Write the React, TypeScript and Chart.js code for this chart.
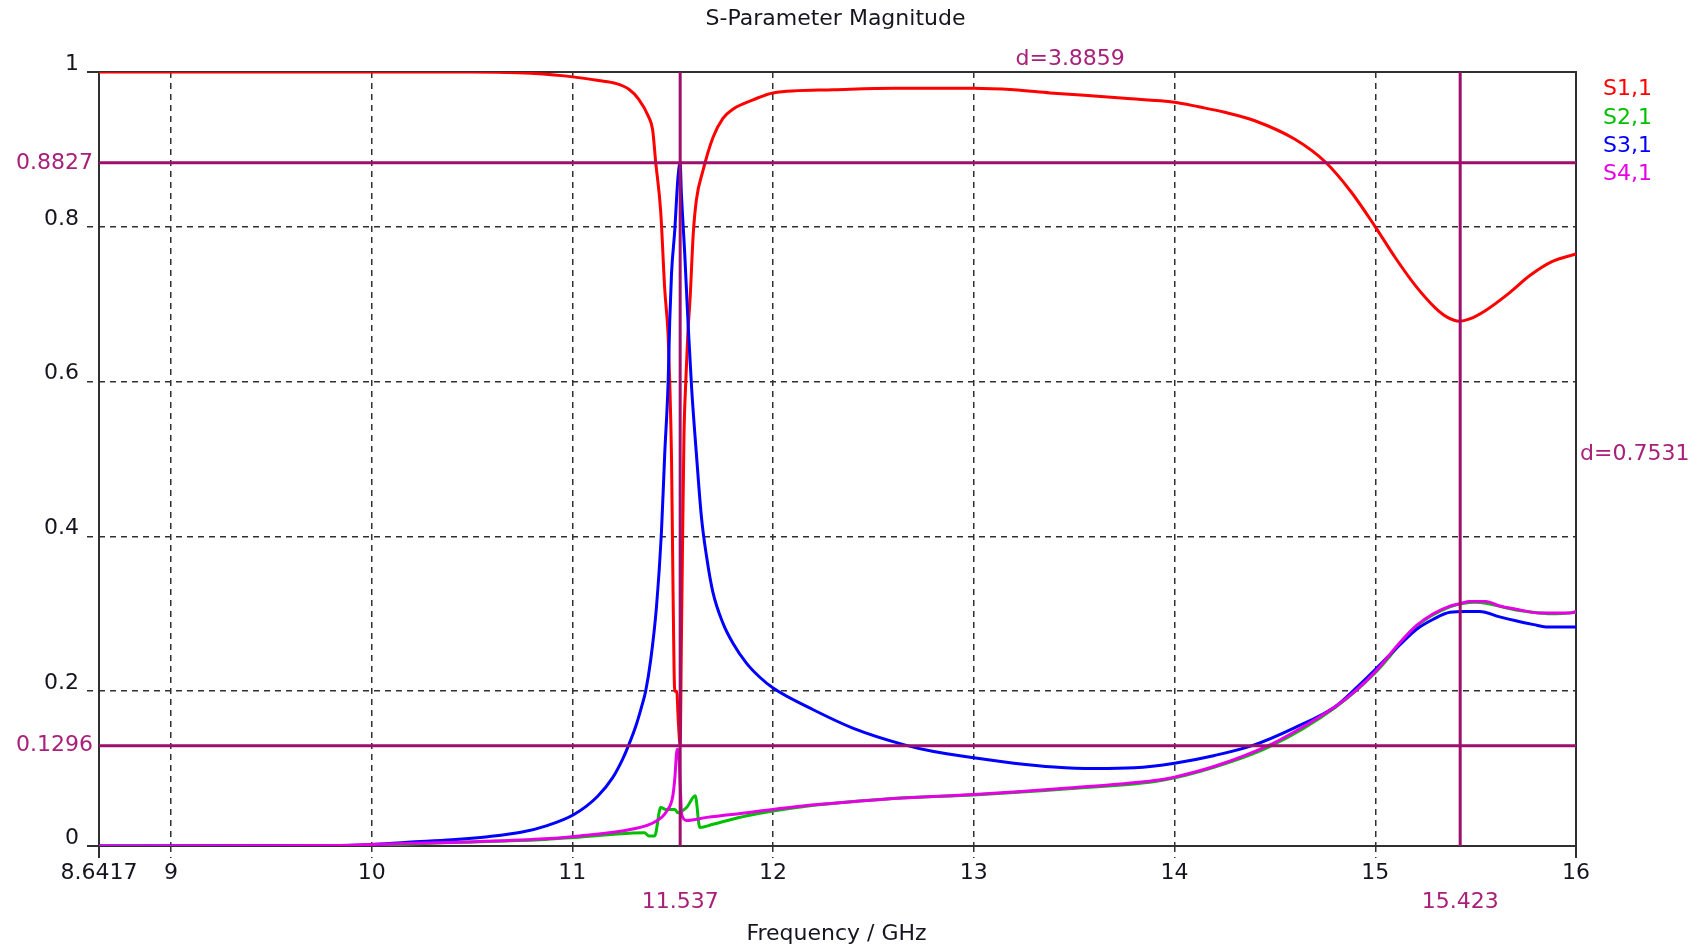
import React, { useEffect, useRef } from 'react';
import { Chart, registerables } from 'chart.js';

Chart.register(...registerables);

// ---------- data ----------
const chartTitle = 'S-Parameter Magnitude';
const xAxisTitle = 'Frequency / GHz';
const xTickValues = [8.6417, 9, 10, 11, 12, 13, 14, 15, 16];
const yTickValues = [0, 0.2, 0.4, 0.6, 0.8, 1];

const seriesNames = ['S1,1', 'S2,1', 'S3,1', 'S4,1'];

const s11Freq = [8.6417, 10.5, 10.73, 10.96, 11.13, 11.22, 11.28, 11.33, 11.38, 11.4, 11.415, 11.44, 11.46, 11.477, 11.485, 11.494, 11.502, 11.51, 11.52, 11.528, 11.537, 11.543, 11.548, 11.556, 11.565, 11.575, 11.587, 11.602, 11.618, 11.65, 11.7, 11.75, 11.8, 11.9, 12.0, 12.3, 12.6, 13.0, 13.2, 13.38, 13.55, 13.75, 14.0, 14.12, 14.25, 14.4, 14.6, 14.75, 14.88, 15.0, 15.1, 15.2, 15.3, 15.36, 15.42, 15.47, 15.55, 15.67, 15.77, 15.88, 16.0];
const s11Mag = [1.0, 1.0, 0.999, 0.995, 0.989, 0.985, 0.978, 0.965, 0.942, 0.925, 0.884, 0.82, 0.72, 0.66, 0.6, 0.5, 0.32, 0.2, 0.2, 0.16, 0.13, 0.26, 0.37, 0.53, 0.6, 0.66, 0.71, 0.79, 0.835, 0.872, 0.915, 0.94, 0.952, 0.964, 0.973, 0.977, 0.979, 0.979, 0.977, 0.973, 0.97, 0.966, 0.961, 0.955, 0.948, 0.937, 0.913, 0.884, 0.845, 0.8, 0.76, 0.724, 0.695, 0.683, 0.678, 0.681, 0.692, 0.715, 0.737, 0.755, 0.765];

const s21Freq = [8.6417, 9.84, 10.44, 10.84, 11.01, 11.3, 11.36, 11.38, 11.41, 11.44, 11.47, 11.51, 11.526, 11.57, 11.612, 11.635, 11.7, 11.87, 12.156, 12.64, 13.0, 13.47, 13.94, 14.2, 14.47, 14.8, 15.0, 15.206, 15.372, 15.5, 15.7, 15.9, 16.0];
const s21Mag = [0, 0, 0.005, 0.008, 0.011, 0.0167, 0.017, 0.013, 0.013, 0.0496, 0.047, 0.047, 0.043, 0.05, 0.065, 0.024, 0.028, 0.039, 0.051, 0.062, 0.066, 0.074, 0.085, 0.102, 0.128, 0.179, 0.224, 0.284, 0.309, 0.315, 0.305, 0.3, 0.302];

const s31Freq = [8.6417, 9.8, 10.0, 10.18, 10.4, 10.58, 10.75, 10.87, 11.01, 11.125, 11.2, 11.25, 11.28, 11.32, 11.345, 11.365, 11.39, 11.419, 11.444, 11.46, 11.477, 11.485, 11.494, 11.51, 11.525, 11.537, 11.543, 11.56, 11.577, 11.594, 11.618, 11.643, 11.668, 11.7, 11.75, 11.8, 11.868, 11.934, 12.0, 12.2, 12.4, 12.65, 12.8, 13.0, 13.2, 13.4, 13.6, 13.8, 14.0, 14.2, 14.39, 14.6, 14.8, 14.9, 15.0, 15.123, 15.206, 15.289, 15.372, 15.45, 15.52, 15.62, 15.7, 15.79, 15.85, 16.0];
const s31Mag = [0, 0.0005, 0.002, 0.005, 0.008, 0.012, 0.018, 0.026, 0.041, 0.064, 0.088, 0.112, 0.13, 0.158, 0.18, 0.2, 0.24, 0.309, 0.407, 0.506, 0.598, 0.678, 0.74, 0.795, 0.86, 0.8827, 0.844, 0.764, 0.672, 0.592, 0.506, 0.425, 0.375, 0.328, 0.288, 0.262, 0.236, 0.218, 0.204, 0.176, 0.152, 0.131, 0.122, 0.114, 0.107, 0.102, 0.1, 0.101, 0.107, 0.117, 0.13, 0.153, 0.18, 0.203, 0.228, 0.26, 0.28, 0.293, 0.302, 0.303, 0.303, 0.296, 0.291, 0.286, 0.283, 0.283];

const s41Freq = [8.6417, 9.84, 10.0, 10.44, 10.84, 11.01, 11.3, 11.41, 11.47, 11.5, 11.51, 11.522, 11.53, 11.537, 11.545, 11.57, 11.67, 11.87, 12.156, 12.38, 12.64, 13.0, 13.47, 13.94, 14.0, 14.2, 14.47, 14.6, 14.8, 14.9, 15.0, 15.123, 15.206, 15.289, 15.372, 15.423, 15.47, 15.55, 15.62, 15.7, 15.82, 15.97, 16.0];
const s41Mag = [0, 0.0005, 0.002, 0.005, 0.009, 0.0124, 0.022, 0.031, 0.045, 0.064, 0.086, 0.125, 0.12, 0.08, 0.04, 0.033, 0.037, 0.043, 0.052, 0.057, 0.062, 0.0665, 0.075, 0.086, 0.089, 0.103, 0.13, 0.148, 0.18, 0.2, 0.225, 0.263, 0.285, 0.3, 0.31, 0.313, 0.316, 0.316, 0.31, 0.306, 0.301, 0.301, 0.303];

const markerFreqs = [11.537, 15.423];
const markerFreqLabels = ['11.537', '15.423'];
const markerLevels = [0.8827, 0.1296];
const markerLevelLabels = ['0.8827', '0.1296'];
const deltaFreqLabel = 'd=3.8859';
const deltaLevelLabel = 'd=0.7531';

// ---------- styles ----------
const seriesColors = ['#ff0000', '#00c000', '#0000ff', '#e600e6'];
const seriesOrder = [2, 3, 1, 0];
const FONT = '"DejaVu Sans", Verdana, sans-serif';
const FS = 22;
const markerLine = '#9e0f6c';
const markerText = '#a8207a';
const gridCol = '#303030';

const xMin = xTickValues[0];
const xMax = xTickValues[xTickValues.length - 1];

const pairs = (f: number[], m: number[]) => f.map((v, i) => ({ x: v, y: m[i] }));

const overlay = {
  id: 'overlay',
  beforeDatasetsDraw(chart: any) {
    const { ctx, chartArea: a } = chart;
    ctx.save();
    ctx.strokeStyle = gridCol;
    ctx.lineWidth = 2;
    ctx.setLineDash([]);
    ctx.beginPath();
    ctx.moveTo(a.left - 12, a.top);
    ctx.lineTo(a.right, a.top);
    ctx.lineTo(a.right, a.bottom + 12);
    ctx.moveTo(a.left - 12, a.bottom);
    ctx.lineTo(a.right, a.bottom);
    ctx.moveTo(a.left, a.top);
    ctx.lineTo(a.left, a.bottom + 12);
    ctx.stroke();
    ctx.restore();
  },
  afterDatasetsDraw(chart: any) {
    const { ctx, chartArea: a, scales } = chart;
    const x = scales.x, y = scales.y;
    ctx.save();
    ctx.strokeStyle = markerLine;
    ctx.lineWidth = 3;
    ctx.beginPath();
    markerFreqs.forEach((f) => {
      const px = x.getPixelForValue(f);
      ctx.moveTo(px, a.top);
      ctx.lineTo(px, a.bottom);
    });
    markerLevels.forEach((v) => {
      const py = y.getPixelForValue(v);
      ctx.moveTo(a.left, py);
      ctx.lineTo(a.right, py);
    });
    ctx.stroke();
    ctx.restore();
  },
  afterDraw(chart: any) {
    const { ctx, chartArea: a, scales } = chart;
    const x = scales.x, y = scales.y;
    ctx.save();
    ctx.font = `${FS}px ${FONT}`;
    ctx.textBaseline = 'middle';
    // title
    ctx.fillStyle = '#151520';
    ctx.textAlign = 'center';
    ctx.fillText(chartTitle, (a.left + a.right) / 2 - 2, 19);
    ctx.fillText(xAxisTitle, (a.left + a.right) / 2 - 1, 934);
    // legend
    ctx.textAlign = 'left';
    seriesNames.forEach((n, i) => {
      ctx.fillStyle = seriesColors[i];
      ctx.fillText(n, a.right + 27, 89.5 + i * 28.3);
    });
    // marker labels
    ctx.fillStyle = markerText;
    ctx.textAlign = 'center';
    markerFreqs.forEach((f, i) => {
      ctx.fillText(markerFreqLabels[i], x.getPixelForValue(f), 902);
    });
    const midF = (markerFreqs[0] + markerFreqs[1]) / 2;
    ctx.fillText(deltaFreqLabel, x.getPixelForValue(midF), a.top - 13);
    ctx.textAlign = 'right';
    markerLevels.forEach((v, i) => {
      ctx.fillText(markerLevelLabels[i], a.left - 6, y.getPixelForValue(v));
    });
    ctx.textAlign = 'left';
    const midV = (markerLevels[0] + markerLevels[1]) / 2;
    ctx.fillText(deltaLevelLabel, a.right + 4, y.getPixelForValue(midV));
    ctx.restore();
  },
};

const edgeX = (v: number) => v === xMin || v === xMax;
const edgeY = (v: number) => v === 0 || v === 1;

export default function App() {
  const ref = useRef<HTMLCanvasElement | null>(null);
  useEffect(() => {
    if (!ref.current) return;
    const freqs = [s11Freq, s21Freq, s31Freq, s41Freq];
    const mags = [s11Mag, s21Mag, s31Mag, s41Mag];
    const chart = new Chart(ref.current, {
      type: 'line',
      data: {
        datasets: seriesNames.map((n, i) => ({
          label: n,
          data: pairs(freqs[i], mags[i]),
          borderColor: seriesColors[i],
          backgroundColor: seriesColors[i],
          borderWidth: 3,
          pointRadius: 0,
          cubicInterpolationMode: 'monotone',
          fill: false,
          borderJoinStyle: 'round',
          order: seriesOrder[i],
        })),
      },
      options: {
        animation: false,
        responsive: false,
        devicePixelRatio: 1,
        events: [],
        layout: { padding: { top: 72, right: 132, bottom: 0, left: 0 } },
        plugins: { legend: { display: false }, title: { display: false }, tooltip: { enabled: false } },
        scales: {
          x: {
            type: 'linear',
            min: xMin,
            max: xMax,
            afterBuildTicks: (s: any) => { s.ticks = xTickValues.map((v) => ({ value: v })); },
            afterFit: (s: any) => { s.height = 105; },
            border: { display: false, dash: [6, 5] },
            grid: {
              color: (c: any) => (c.tick && edgeX(c.tick.value) ? 'rgba(0,0,0,0)' : gridCol),
              lineWidth: 1.5,
              tickLength: 12,
              tickBorderDash: [6, 5],
            },
            ticks: {
              autoSkip: false,
              maxRotation: 0,
              minRotation: 0,
              padding: 2,
              color: '#151520',
              font: { family: FONT, size: FS },
              callback: (v: any) => String(v),
            },
          },
          y: {
            type: 'linear',
            min: 0,
            max: 1,
            afterBuildTicks: (s: any) => { s.ticks = yTickValues.map((v) => ({ value: v })); },
            afterFit: (s: any) => { s.width = 99; },
            border: { display: false, dash: [6, 5] },
            grid: {
              color: (c: any) => (c.tick && edgeY(c.tick.value) ? 'rgba(0,0,0,0)' : gridCol),
              lineWidth: 1.5,
              tickLength: 12,
              tickBorderDash: [6, 5],
            },
            ticks: {
              padding: 8,
              labelOffset: -8,
              color: '#151520',
              font: { family: FONT, size: FS },
              callback: (v: any) => (v === 0 ? '0' : v === 1 ? '1' : Number(v).toFixed(1)),
            },
          },
        },
      },
      plugins: [overlay],
    } as any);
    return () => chart.destroy();
  }, []);
  return (
    <div style={{ position: 'absolute', left: 0, top: 0, width: 1708, height: 951, background: '#fff' }}>
      <canvas ref={ref} width={1708} height={951} style={{ display: 'block' }} />
    </div>
  );
}
